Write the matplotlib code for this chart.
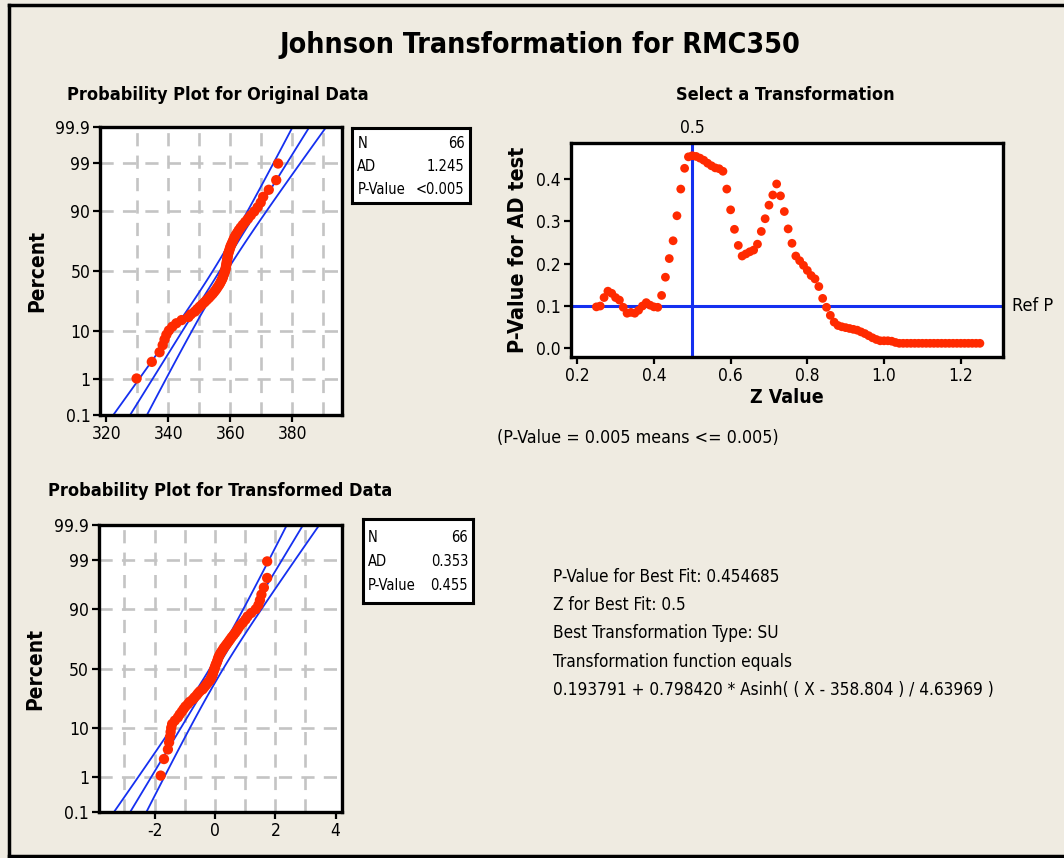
import matplotlib.pyplot as plt
import numpy as np
from statistics import NormalDist
from matplotlib.lines import Line2D
from matplotlib.transforms import blended_transform_factory

plt.rcParams['font.family'] = ['DejaVu Sans']
plt.rcParams['font.stretch'] = 'condensed'
plt.rcParams['axes.unicode_minus'] = False

# ---- data ----
original_data = [329.8, 334.7, 337.2, 338.2, 338.8, 339.4, 340.2, 341.3, 342.6, 344.3,
                 346.5, 347.3, 348.5, 349.3, 350.1, 350.9, 351.7, 352.4, 353.1, 353.7,
                 354.3, 354.8, 355.3, 355.7, 356.1, 356.5, 356.8, 357.1, 357.4, 357.6,
                 357.8, 358.0, 358.2, 358.4, 358.5, 358.6, 358.7, 358.8, 358.9, 359.0,
                 359.1, 359.2, 359.3, 359.5, 359.7, 359.9, 360.1, 360.4, 360.7, 361.0,
                 361.3, 361.7, 362.2, 362.7, 363.3, 364.0, 364.8, 365.7, 366.6, 367.7,
                 368.8, 369.8, 370.6, 372.4, 374.8, 375.4]
transformed_data = [-1.80, -1.69, -1.56, -1.52, -1.49, -1.47, -1.45, -1.42, -1.33, -1.23,
                    -1.17, -1.10, -1.04, -0.98, -0.90, -0.84, -0.74, -0.68, -0.61, -0.56,
                    -0.50, -0.41, -0.36, -0.31, -0.26, -0.21, -0.16, -0.13, -0.10, -0.08,
                    -0.065, -0.045, -0.025, -0.006, 0.014, 0.033, 0.063, 0.082, 0.10, 0.12,
                    0.15, 0.18, 0.22, 0.26, 0.30, 0.35, 0.40, 0.45, 0.50, 0.55,
                    0.61, 0.67, 0.73, 0.78, 0.84, 0.93, 1.01, 1.08, 1.20, 1.35,
                    1.44, 1.49, 1.54, 1.62, 1.73, 1.73]

# fitted normal lines (mean, stdev) as drawn
orig_fit = (356.6, 9.35)
trans_fit = (0.055, 0.927)

z_values = [0.25, 0.26, 0.27, 0.28, 0.29, 0.30, 0.31, 0.32, 0.33, 0.34,
            0.35, 0.36, 0.37, 0.38, 0.39, 0.40, 0.41, 0.42, 0.43, 0.44,
            0.45, 0.46, 0.47, 0.48, 0.49, 0.50, 0.51, 0.52, 0.53, 0.54,
            0.55, 0.56, 0.57, 0.58, 0.59, 0.60, 0.61, 0.62, 0.63, 0.64,
            0.65, 0.66, 0.67, 0.68, 0.69, 0.70, 0.71, 0.72, 0.73, 0.74,
            0.75, 0.76, 0.77, 0.78, 0.79, 0.80, 0.81, 0.82, 0.83, 0.84,
            0.85, 0.86, 0.87, 0.88, 0.89, 0.90, 0.91, 0.92, 0.93, 0.94,
            0.95, 0.96, 0.97, 0.98, 0.99, 1.00, 1.01, 1.02, 1.03, 1.04,
            1.05, 1.06, 1.07, 1.08, 1.09, 1.10, 1.11, 1.12, 1.13, 1.14,
            1.15, 1.16, 1.17, 1.18, 1.19, 1.20, 1.21, 1.22, 1.23, 1.24, 1.25]
p_values = [0.098, 0.100, 0.120, 0.135, 0.130, 0.120, 0.114, 0.097, 0.083, 0.085,
            0.083, 0.090, 0.100, 0.108, 0.102, 0.098, 0.097, 0.125, 0.168, 0.212,
            0.254, 0.313, 0.376, 0.425, 0.452, 0.4547, 0.453, 0.449, 0.444, 0.437,
            0.431, 0.426, 0.424, 0.418, 0.376, 0.327, 0.281, 0.243, 0.218, 0.223,
            0.228, 0.232, 0.246, 0.276, 0.306, 0.338, 0.362, 0.388, 0.360, 0.323,
            0.282, 0.248, 0.218, 0.207, 0.196, 0.184, 0.172, 0.164, 0.146, 0.118,
            0.097, 0.078, 0.062, 0.054, 0.051, 0.049, 0.047, 0.045, 0.043, 0.039,
            0.035, 0.030, 0.025, 0.021, 0.018, 0.018, 0.018, 0.017, 0.014, 0.012,
            0.012, 0.012, 0.012, 0.012, 0.012, 0.012, 0.012, 0.012, 0.012, 0.012,
            0.012, 0.012, 0.012, 0.012, 0.012, 0.012, 0.012, 0.012, 0.012, 0.012, 0.012]

percent_ticks = [0.1, 1, 10, 50, 90, 99, 99.9]
percent_labels = ['0.1', '1', '10', '50', '90', '99', '99.9']
orig_stats = [('N', '66'), ('AD', '1.245'), ('P-Value', '<0.005')]
trans_stats = [('N', '66'), ('AD', '0.353'), ('P-Value', '0.455')]
best_z = 0.5
ref_p = 0.1

info_lines = ['P-Value for Best Fit: 0.454685',
              'Z for Best Fit: 0.5',
              'Best Transformation Type: SU',
              'Transformation function equals',
              '0.193791 + 0.798420 * Asinh( ( X - 358.804 ) / 4.63969 )']

# ---- styling ----
W, H = 1064, 858
BG = '#EFEBE1'
RED = '#FF2A00'
BLUE = '#1530F0'
GRIDC = '#C4C4C4'
nd = NormalDist()


def fx(x):
    return x / W


def fy(y):
    return 1 - y / H


def axes_px(left, top, right, bottom):
    return [fx(left), fy(bottom), (right - left) / W, (bottom - top) / H]


def style_spines(ax):
    for s in ax.spines.values():
        s.set_linewidth(2.4)
        s.set_color('black')
    ax.tick_params(direction='out', length=5, width=1.6, labelsize=12.5, pad=2)


def prob_plot(ax, data, fit, xlim, xticks, xgrid):
    n = len(data)
    zs = [nd.inv_cdf((i + 1 - 0.3) / (n + 0.4)) for i in range(n)]
    zlo, zhi = nd.inv_cdf(0.001), nd.inv_cdf(0.999)
    ax.set_facecolor('white')
    for g in xgrid:
        ax.axvline(g, color=GRIDC, lw=1.9, ls=(0, (5, 3.5)), zorder=0)
    for p in [1, 10, 50, 90, 99]:
        ax.axhline(nd.inv_cdf(p / 100), color=GRIDC, lw=1.9, ls=(0, (5, 3.5)), zorder=0)
    mu, sd = fit
    zl = np.linspace(zlo - 0.1, zhi + 0.1, 80)
    half = 1.96 * sd * np.sqrt((1 + zl ** 2 / 2) / n)
    ax.plot(mu + zl * sd, zl, color=BLUE, lw=1.3, zorder=2)
    ax.plot(mu + zl * sd - half, zl, color=BLUE, lw=1.3, zorder=2)
    ax.plot(mu + zl * sd + half, zl, color=BLUE, lw=1.3, zorder=2)
    ax.scatter(sorted(data), zs, s=55, color=RED, edgecolors='none', zorder=3)
    ax.set_xlim(*xlim)
    ax.set_ylim(zlo, zhi)
    ax.set_xticks(xticks)
    ax.set_yticks([nd.inv_cdf(p / 100) for p in percent_ticks])
    ax.set_yticklabels(percent_labels)
    style_spines(ax)
    ax.set_ylabel('Percent', fontsize=15, fontweight='bold', labelpad=6)


def stat_box(rect, rows, ys):
    bx = fig.add_axes(axes_px(*rect))
    bx.set_facecolor('white')
    bx.set_xticks([])
    bx.set_yticks([])
    for s in bx.spines.values():
        s.set_linewidth(2.2)
    for (k, v), y in zip(rows, ys):
        bx.text(0.045, y, k, fontsize=10.5, va='center', ha='left', transform=bx.transAxes)
        bx.text(0.955, y, v, fontsize=10.5, va='center', ha='right', transform=bx.transAxes)


fig = plt.figure(figsize=(W / 100, H / 100), dpi=100)
fig.patch.set_facecolor(BG)

# outer frame
for xs, ys in [([9, W], [5, 5]), ([9, 9], [5, 856]), ([9, W], [856, 856])]:
    fig.add_artist(Line2D([fx(v) for v in xs], [fy(v) for v in ys], color='black', lw=2.5))

fig.text(fx(540), fy(45), 'Johnson Transformation for RMC350', fontsize=20.5,
         fontweight='bold', ha='center', va='center')

# original data
ax1 = fig.add_axes(axes_px(100, 127, 342, 415))
prob_plot(ax1, original_data, orig_fit, (318, 396), [320, 340, 360, 380],
          [330, 340, 350, 360, 370, 380, 390])
fig.text(fx(218), fy(95), 'Probability Plot for Original Data', fontsize=13,
         fontweight='bold', ha='center', va='center')
stat_box((352, 128, 470, 203), orig_stats, [0.80, 0.49, 0.18])

# transformed data
ax2 = fig.add_axes(axes_px(98.5, 525, 341.7, 812))
prob_plot(ax2, transformed_data, trans_fit, (-3.86, 4.2), [-2, 0, 2, 4],
          [-3, -2, -1, 0, 1, 2, 3])
fig.text(fx(220), fy(491), 'Probability Plot for Transformed Data', fontsize=13,
         fontweight='bold', ha='center', va='center')
stat_box((363, 519, 473, 603), trans_stats, [0.78, 0.49, 0.21])

# transformation selection
ax3 = fig.add_axes(axes_px(570.7, 143.3, 1003.3, 357.3))
ax3.set_facecolor('white')
ax3.scatter(z_values, p_values, s=40, color=RED, edgecolors='none', zorder=3)
ax3.axvline(best_z, color=BLUE, lw=2.2, zorder=2)
ax3.axhline(ref_p, color=BLUE, lw=2.2, zorder=2)
ax3.set_xlim(0.183, 1.311)
ax3.set_ylim(-0.021, 0.484)
ax3.set_xticks([0.2, 0.4, 0.6, 0.8, 1.0, 1.2])
ax3.set_yticks([0.0, 0.1, 0.2, 0.3, 0.4])
ax3.xaxis.set_major_formatter(plt.FormatStrFormatter('%.1f'))
ax3.yaxis.set_major_formatter(plt.FormatStrFormatter('%.1f'))
style_spines(ax3)
ax3.set_xlabel('Z Value', fontsize=14, fontweight='bold', labelpad=2)
ax3.set_ylabel('P-Value for AD test', fontsize=15.5, fontweight='bold', labelpad=6)
trx = blended_transform_factory(ax3.transData, ax3.transAxes)
ax3.text(best_z, 1.03, '0.5', transform=trx, ha='center', va='bottom', fontsize=12.5)
tr_y = blended_transform_factory(ax3.transAxes, ax3.transData)
ax3.text(1.02, ref_p, 'Ref P', transform=tr_y, ha='left', va='center', fontsize=13)
fig.text(fx(497), fy(438), '(P-Value = 0.005 means <= 0.005)', fontsize=12.8,
         ha='left', va='center')
fig.text(fx(785), fy(95), 'Select a Transformation', fontsize=13,
         fontweight='bold', ha='center', va='center')

for k, line in enumerate(info_lines):
    fig.text(fx(553), fy(577 + k * 28.2), line, fontsize=12.3, ha='left', va='center')

fig.savefig('out.png', dpi=100, facecolor=BG)
